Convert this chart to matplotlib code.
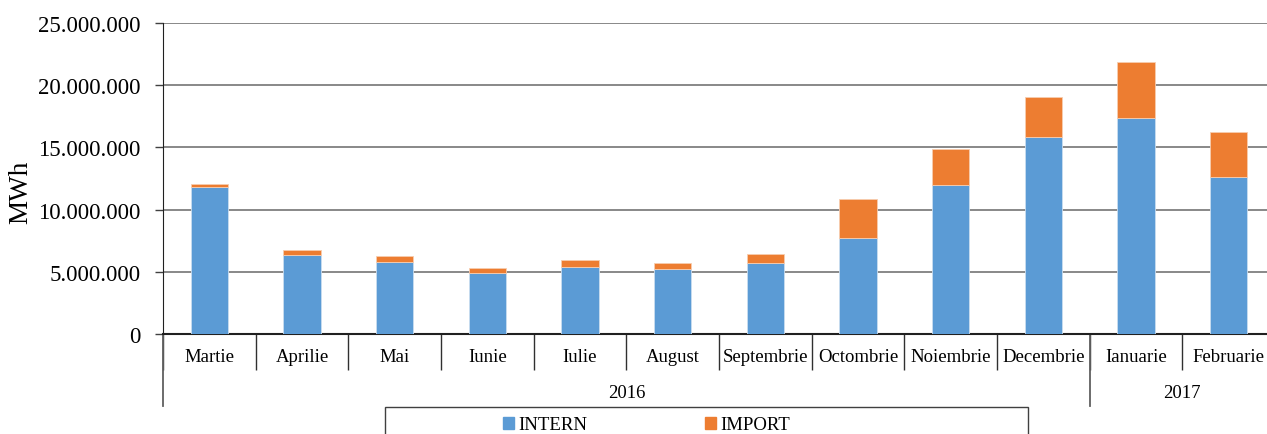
import numpy as np
import matplotlib.pyplot as plt
from matplotlib.patches import Rectangle, Patch

plt.rcParams['font.family'] = ['Liberation Serif', 'DejaVu Serif']

months = ['Martie', 'Aprilie', 'Mai', 'Iunie', 'Iulie', 'August', 'Septembrie',
          'Octombrie', 'Noiembrie', 'Decembrie', 'Ianuarie', 'Februarie']
years = ['2016', '2017']
year_counts = [10, 2]
intern = [11.84, 6.33, 5.76, 4.92, 5.41, 5.19, 5.70, 7.71, 11.94, 15.80, 17.40, 12.62]
total = [12.03, 6.76, 6.25, 5.30, 5.95, 5.70, 6.43, 10.87, 14.84, 19.05, 21.86, 16.22]
import_ = [t - i for t, i in zip(total, intern)]

intern = np.array(intern) * 1e6
import_ = np.array(import_) * 1e6

blue = '#5B9BD5'
orange = '#ED7D31'

W, H = 1267, 435
fig = plt.figure(figsize=(W / 100, H / 100), dpi=100)
ax = fig.add_axes([163 / W, (H - 335) / H, (1275 - 163) / W, 311 / H])

x = np.arange(len(months))
ax.bar(x, intern, 0.4, color=blue, edgecolor='#c9ddf0', linewidth=0.6, zorder=3)
ax.bar(x, import_, 0.4, bottom=intern, color=orange, edgecolor='#f7cdb0', linewidth=0.6, zorder=3)

ax.set_xlim(-0.5, 11.5)
ax.set_ylim(0, 25e6)
ax.set_yticks(np.arange(0, 25e6 + 1, 5e6))
ax.set_yticklabels(['0' if v == 0 else f'{int(v):,}'.replace(',', '.') for v in np.arange(0, 25e6 + 1, 5e6)],
                   fontsize=16.5)
ax.tick_params(axis='y', length=6, width=1, pad=10, color='#404040')
ax.yaxis.grid(True, color='#7f7f7f', linewidth=1.3, zorder=0)
ax.set_axisbelow(True)
ax.set_ylabel('MWh', fontsize=19.5)
ax.yaxis.set_label_coords(-0.117, 0.46)

# category boundaries as major ticks, month names on minor ticks
ax.set_xticks(np.arange(-0.5, 12, 1))
ax.set_xticklabels([])
ax.tick_params(axis='x', which='major', length=26, width=1, color='#303030')
ax.set_xticks(x, minor=True)
ax.set_xticklabels(months, minor=True, fontsize=13.5)
ax.tick_params(axis='x', which='minor', length=0, pad=10)

for s in ['top', 'right']:
    ax.spines[s].set_visible(False)
ax.spines['left'].set_color('#202020')
ax.spines['bottom'].set_color('#202020')
ax.spines['bottom'].set_linewidth(1.5)

# year level
trans = ax.get_xaxis_transform()
low = -(407 - 335) / 311
start = -0.5
for yr, n in zip(years, year_counts):
    ax.plot([start, start], [0, low], transform=trans, color='#606060', linewidth=1.3, clip_on=False)
    ax.text(start + n / 2, -(394 - 335) / 311, yr, transform=trans, ha='center', va='center', fontsize=13.5)
    start += n

# legend
fig.patches.append(Rectangle((385 / W, -0.1), (1028 - 385) / W, 0.1 + (H - 408) / H,
                             transform=fig.transFigure, fill=False, edgecolor='#404040', linewidth=1))
handles = [Patch(color=blue, label='INTERN'), Patch(color=orange, label='IMPORT')]
fig.legend(handles=handles, loc='center left', bbox_to_anchor=(503 / W, (H - 426) / H), ncol=2,
           frameon=False, fontsize=13.5, handlelength=0.6, handleheight=0.6, handletextpad=0.2,
           columnspacing=6.3, borderpad=0, borderaxespad=0)

fig.savefig('out.png', dpi=100)
